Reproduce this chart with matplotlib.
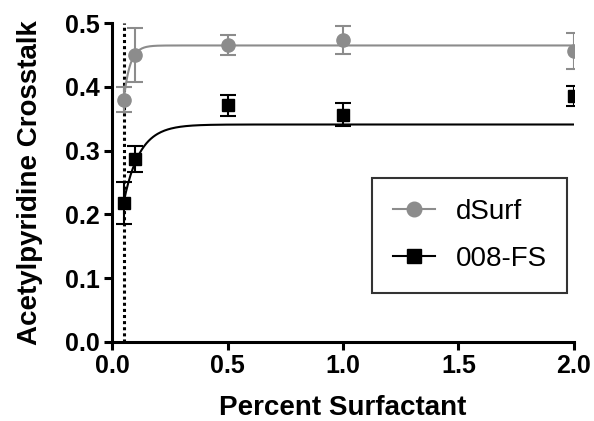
import numpy as np
import matplotlib.pyplot as plt

plt.rcParams['font.family'] = ['Liberation Sans', 'DejaVu Sans']

##### data
conc = [0.05, 0.1, 0.5, 1.0, 2.0]   # percent surfactant

dsurf_mean = [0.380, 0.450, 0.466, 0.474, 0.456]
dsurf_err = [0.020, 0.042, 0.016, 0.022, 0.028]

fs_mean = [0.218, 0.287, 0.371, 0.356, 0.386]
fs_err = [0.033, 0.020, 0.017, 0.018, 0.016]

# one-phase association fits: (start x, Y0, plateau, K)
dsurf_fit = (0.05, 0.38, 0.465, 37.0)
fs_fit = (0.05, 0.22, 0.341, 14.4)

cmc_line = 0.05   # dotted vertical marker

gray = '#8c8c8c'


def assoc(fit, x):
    x0, y0, plat, k = fit
    return plat - (plat - y0) * np.exp(-k * (x - x0))


###### figure
fig = plt.figure(figsize=(5.94, 4.21), dpi=100)
ax = fig.add_axes([0.189, 0.188, 0.777, 0.757])

xf = np.linspace(0.05, 2.0, 400)
ax.plot(xf, assoc(dsurf_fit, xf), color=gray, lw=1.5, zorder=2)
ax.plot(xf, assoc(fs_fit, xf), color='black', lw=1.5, zorder=2)

ax.errorbar(conc, dsurf_mean, yerr=dsurf_err, fmt='o', color=gray,
            ms=9.5, capsize=6, elinewidth=1.5, capthick=1.5, zorder=3)
ax.errorbar(conc, fs_mean, yerr=fs_err, fmt='s', color='black',
            ms=9, capsize=6, elinewidth=1.5, capthick=1.5, zorder=3)

ax.axvline(cmc_line, color='black', ls=(0, (1, 1)), lw=2.2, zorder=1)

# legend handles: line with marker
h1, = ax.plot([], [], '-o', color=gray, ms=10.5, lw=1.5)
h2, = ax.plot([], [], '-s', color='black', ms=9.5, lw=1.5)
leg = ax.legend([h1, h2], ['dSurf', '008-FS'], loc='upper left',
                bbox_to_anchor=(0.563, 0.513), fontsize=20, frameon=True,
                fancybox=False, edgecolor='black', borderpad=0.75,
                labelspacing=0.75, handlelength=1.5, handletextpad=0.75,
                borderaxespad=0.0)
leg.get_frame().set_linewidth(1.5)

ax.set_xlim(0, 2.0)
ax.set_ylim(0, 0.5)
ax.set_xticks([0.0, 0.5, 1.0, 1.5, 2.0])
ax.set_yticks([0.0, 0.1, 0.2, 0.3, 0.4, 0.5])
ax.set_xticklabels(['0.0', '0.5', '1.0', '1.5', '2.0'])
ax.set_yticklabels(['0.0', '0.1', '0.2', '0.3', '0.4', '0.5'])

for side in ['top', 'right']:
    ax.spines[side].set_visible(False)
for side in ['left', 'bottom']:
    ax.spines[side].set_linewidth(2.2)
ax.tick_params(width=2.2, length=6, labelsize=18, pad=3)
for lab in ax.get_xticklabels() + ax.get_yticklabels():
    lab.set_fontweight('bold')

ax.set_xlabel('Percent Surfactant', fontsize=20, fontweight='bold', labelpad=12)
ax.set_ylabel('Acetylpyridine Crosstalk', fontsize=20, fontweight='bold',
              labelpad=16)

fig.savefig('out.png', dpi=100)
